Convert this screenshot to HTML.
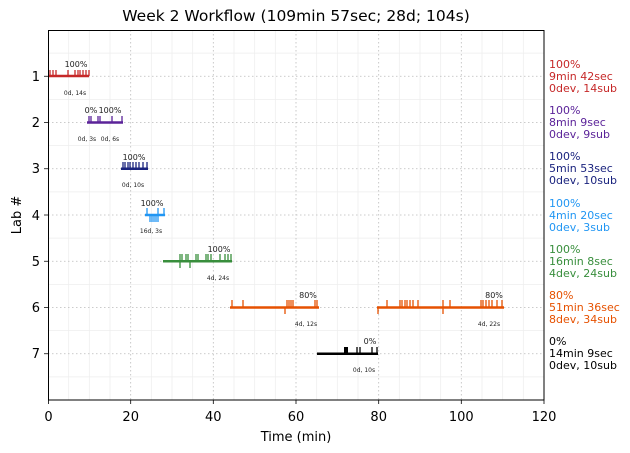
<!DOCTYPE html>
<html><head><meta charset="utf-8"><style>
body{margin:0;background:#fff;}
svg{display:block;font-family:"DejaVu Sans","Liberation Sans",sans-serif;}
</style></head><body>
<svg width="630" height="453" viewBox="0 0 630 453" xmlns="http://www.w3.org/2000/svg">
<rect width="630" height="453" fill="#fff"/>
<text x="296" y="21" font-size="15.5" text-anchor="middle" fill="#000">Week 2 Workflow (109min 57sec; 28d; 104s)</text>
<path d="M68.7 30V400M89.3 30V400M110 30V400M151.3 30V400M172 30V400M192.7 30V400M234 30V400M254.7 30V400M275.3 30V400M316.7 30V400M337.3 30V400M358 30V400M399.3 30V400M420 30V400M440.7 30V400M482 30V400M502.7 30V400M523.3 30V400M48 53.1H544M48 99.4H544M48 145.6H544M48 191.9H544M48 238.1H544M48 284.4H544M48 330.6H544M48 376.9H544" stroke="#eeeeee" stroke-width="0.8"/>
<path d="M130.7 30V400M213.3 30V400M296 30V400M378.7 30V400M461.3 30V400M48 76.25H544M48 122.5H544M48 168.75H544M48 215H544M48 261.25H544M48 307.5H544M48 353.75H544" stroke="#bbbbbb" stroke-width="0.8" stroke-dasharray="1.5,2.5"/>
<g stroke="#c62828" stroke-width="1.3">
<path d="M48 76H89" stroke-width="2.5"/>
<path d="M50 76V70M53 76V70M56 76V70M68 76V70M75 76V70M78 76V70M80 76V70M83 76V70M86 76V70M89 76V70"/>
</g>
<g stroke="#5b2399" stroke-width="1.3">
<path d="M87 122.5H123" stroke-width="2.5"/>
<path d="M89 122V116M91 122V116M98 122V116M100 122V116M112 122V116M122 122V116"/>
</g>
<g stroke="#1a237e" stroke-width="1.3">
<path d="M121 168.75H148" stroke-width="2.5"/>
<path d="M123 168V162M125 168V162M128 168V162M130 168V162M133 168V162M136 168V162M139 168V162M143 168V162M147 168V162"/>
</g>
<g stroke="#2196f3" stroke-width="1.3">
<path d="M145 215H165" stroke-width="2.5"/>
<path d="M147 215V208M158 215V208M164 215V208M150 215V222M152 215V222M154 215V222M156 215V222M158 215V222"/>
</g>
<g stroke="#388e3c" stroke-width="1.3">
<path d="M163 261.25H232" stroke-width="2.5"/>
<path d="M180 261V254M182 261V254M186 261V254M188 261V254M196 261V254M198 261V254M206 261V254M208 261V254M211 261V254M220 261V254M225 261V254M228 261V254M231 261V254M180 261V268M190 261V268"/>
</g>
<g stroke="#e65100" stroke-width="1.3">
<path d="M230 307.5H319M377 307.5H504" stroke-width="2.5"/>
<path d="M232 307V300M243 307V300M287 307V300M289 307V300M291 307V300M293 307V300M315 307V300M317 307V300M387 307V300M400 307V300M402 307V300M405 307V300M407 307V300M410 307V300M413 307V300M418 307V300M443 307V300M450 307V300M481 307V300M483 307V300M486 307V300M489 307V300M492 307V300M497 307V300M502 307V300M285 307V314M378 307V314M443 307V314"/>
</g>
<g stroke="#000" stroke-width="1.3">
<path d="M317 353.75H378" stroke-width="2.5"/>
<path d="M357 354V347M360 354V347M372 354V347M377 354V347"/>
<rect x="344" y="347" width="4" height="7" fill="#000" stroke="none"/>
</g>
<g font-size="8" text-anchor="middle" fill="#222">
<text x="76" y="67">100%</text><text x="91" y="113">0%</text><text x="110" y="113">100%</text>
<text x="134" y="160">100%</text><text x="152" y="206">100%</text><text x="219" y="252">100%</text>
<text x="308" y="298">80%</text><text x="494" y="298">80%</text><text x="370" y="344">0%</text>
</g>
<g font-size="6" text-anchor="middle" fill="#222">
<text x="75" y="95">0d, 14s</text><text x="87" y="141">0d, 3s</text><text x="110" y="141">0d, 6s</text>
<text x="133" y="187">0d, 10s</text><text x="151" y="233">16d, 3s</text><text x="218" y="280">4d, 24s</text>
<text x="306" y="326">4d, 12s</text><text x="489" y="326">4d, 22s</text><text x="364" y="372">0d, 10s</text>
</g>
<rect x="48.5" y="30.5" width="495.5" height="369.5" fill="none" stroke="#000" stroke-width="1"/>
<path d="M48.5 400V404M130.7 400V404M213.3 400V404M296 400V404M378.7 400V404M461.3 400V404M544 400V404M48 76.25H44M48 122.5H44M48 168.75H44M48 215H44M48 261.25H44M48 307.5H44M48 353.75H44" stroke="#000" stroke-width="0.8"/>
<g font-size="13" fill="#000" text-anchor="middle">
<text x="48.5" y="421">0</text><text x="130.7" y="421">20</text><text x="213.3" y="421">40</text><text x="296" y="421">60</text><text x="378.7" y="421">80</text><text x="461.3" y="421">100</text><text x="544" y="421">120</text>
<text x="296" y="441">Time (min)</text>
</g>
<g font-size="13" fill="#000" text-anchor="end">
<text x="40" y="81">1</text><text x="40" y="127">2</text><text x="40" y="173">3</text><text x="40" y="220">4</text><text x="40" y="266">5</text><text x="40" y="312">6</text><text x="40" y="358">7</text>
</g>
<text transform="translate(21,215) rotate(-90)" font-size="13" text-anchor="middle">Lab #</text>
<g font-size="11">
<g fill="#c62828"><text x="549" y="68">100%</text><text x="549" y="80">9min 42sec</text><text x="549" y="92">0dev, 14sub</text></g>
<g fill="#5b2399"><text x="549" y="114">100%</text><text x="549" y="126">8min 9sec</text><text x="549" y="138">0dev, 9sub</text></g>
<g fill="#1a237e"><text x="549" y="160">100%</text><text x="549" y="172">5min 53sec</text><text x="549" y="184">0dev, 10sub</text></g>
<g fill="#2196f3"><text x="549" y="207">100%</text><text x="549" y="219">4min 20sec</text><text x="549" y="231">0dev, 3sub</text></g>
<g fill="#388e3c"><text x="549" y="253">100%</text><text x="549" y="265">16min 8sec</text><text x="549" y="277">4dev, 24sub</text></g>
<g fill="#e65100"><text x="549" y="299">80%</text><text x="549" y="311">51min 36sec</text><text x="549" y="323">8dev, 34sub</text></g>
<g fill="#000"><text x="549" y="345">0%</text><text x="549" y="357">14min 9sec</text><text x="549" y="369">0dev, 10sub</text></g>
</g>
</svg>
</body></html>
